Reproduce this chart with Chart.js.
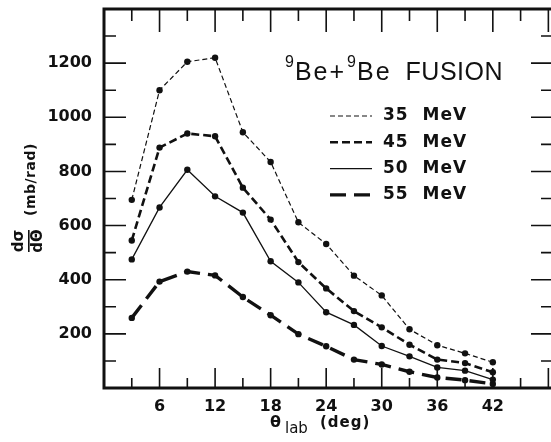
<!DOCTYPE html>
<html><head><meta charset="utf-8">
<script src="https://cdn.jsdelivr.net/npm/chart.js@4.4.0/dist/chart.umd.min.js"></script>
<style>html,body{margin:0;padding:0;background:#fff;overflow:hidden;width:551px;height:442px}#wrap{width:560px;height:442px}</style>
</head><body><div id="wrap"><canvas id="c" width="560" height="442"></canvas></div>
<script>
const angles = [3,6,9,12,15,18,21,24,27,30,33,36,39,42];
const mev35 = [695,1100,1205,1220,945,835,612,532,415,342,217,158,128,95];
const mev45 = [545,888,940,930,740,622,465,368,284,224,160,105,92,58];
const mev50 = [475,667,806,708,648,468,390,280,233,155,117,76,64,31];
const mev55 = [259,393,430,416,336,269,199,154,105,87,60,39,29,15];
const seriesLabels = ['35  MeV','45  MeV','50  MeV','55  MeV'];
const xTickLabels = [6,12,18,24,30,36,42];
const yTickLabels = [200,400,600,800,1000,1200];

const INK = '#111';
const mk = (vals) => angles.map((a,i)=>({x:a,y:vals[i]}));
const styles = [
  {w:1.2, dash:[5,3]},
  {w:2.6, dash:[8,4]},
  {w:1.3, dash:[]},
  {w:3.4, dash:[16,8]}
];
const series = [mev35, mev45, mev50, mev55];
const datasets = series.map((s,i)=>({
  label: seriesLabels[i],
  data: mk(s),
  borderColor: INK,
  borderWidth: styles[i].w,
  borderDash: styles[i].dash,
  pointRadius: 3.2,
  pointBackgroundColor: INK,
  pointBorderWidth: 0,
  tension: 0,
  fill: false
}));

const framePlugin = {
  id: 'frame',
  afterDatasetsDraw(chart) {
    const ctx = chart.ctx, a = chart.chartArea;
    const xs = chart.scales.x, ys = chart.scales.y;
    ctx.save();
    ctx.strokeStyle = INK;
    ctx.lineWidth = 3;
    ctx.strokeRect(a.left, a.top, a.right - a.left, a.bottom - a.top);
    ctx.lineWidth = 1.6;
    ctx.beginPath();
    for (let v = 3; v < 49; v += 3) {
      const px = xs.getPixelForValue(v);
      const major = v % 6 === 0;
      ctx.moveTo(px, a.bottom); ctx.lineTo(px, a.bottom - (major ? 20 : 10));
      ctx.moveTo(px, a.top); ctx.lineTo(px, a.top + (major ? 23 : 12));
    }
    for (let v = 100; v < 1400; v += 100) {
      const py = ys.getPixelForValue(v);
      const major = v % 200 === 0;
      ctx.moveTo(a.left, py); ctx.lineTo(a.left + (major ? 22 : 12), py);
      ctx.moveTo(a.right, py); ctx.lineTo(a.right - (major ? 22 : 12), py);
    }
    ctx.stroke();
    ctx.restore();
  },
  afterDraw(chart) {
    const ctx = chart.ctx, a = chart.chartArea;
    ctx.save();
    ctx.fillStyle = INK;
    // Title
    ctx.textBaseline = 'alphabetic';
    ctx.textAlign = 'left';
    let x = a.left + 181;
    const base = a.top + 71;
    const parts = [
      {t:'9', f:'16px "Liberation Sans"', dy:-13, gap:1},
      {t:'Be+', f:'25px "Liberation Sans"', dy:0, gap:1, ls:'2px'},
      {t:'9', f:'16px "Liberation Sans"', dy:-13, gap:1},
      {t:'Be', f:'25px "Liberation Sans"', dy:0, gap:14, ls:'2px'},
      {t:'FUSION', f:'25px "Liberation Sans"', dy:0, gap:0, ls:'0.5px'}
    ];
    for (const p of parts) {
      ctx.font = p.f;
      ctx.letterSpacing = p.ls || '0px';
      ctx.fillText(p.t, x, base + p.dy);
      x += ctx.measureText(p.t).width + p.gap;
    }
    ctx.letterSpacing = '0px';
    // Legend
    const lx0 = a.left + 226, lx1 = a.left + 268, tx = a.left + 279;
    chart.data.datasets.forEach((ds, i) => {
      const y = a.top + 107 + i * 26.3;
      ctx.save();
      ctx.strokeStyle = INK;
      ctx.lineWidth = ds.borderWidth;
      ctx.setLineDash(ds.borderDash);
      ctx.beginPath(); ctx.moveTo(lx0, y); ctx.lineTo(lx1, y); ctx.stroke();
      ctx.restore();
      ctx.font = 'bold 17px "DejaVu Sans"';
      ctx.letterSpacing = '1px';
      ctx.textBaseline = 'middle';
      ctx.fillText(ds.label, tx, y);
      ctx.letterSpacing = '0px';
    });
    // X axis title
    ctx.textBaseline = 'alphabetic';
    ctx.font = 'bold 16px "DejaVu Sans"';
    ctx.fillText('\u03b8', 270, 427);
    ctx.font = '15px "DejaVu Sans"';
    ctx.fillText('lab', 285, 433);
    ctx.font = 'bold 15px "DejaVu Sans"';
    ctx.letterSpacing = '1px';
    ctx.fillText('(deg)', 320, 427);
    ctx.letterSpacing = '0px';
    // Y axis title (rotated)
    ctx.save();
    ctx.rotate(-Math.PI / 2);
    // rotated frame: u = -screenY, v = screenX
    ctx.font = 'bold 15px "DejaVu Sans"';
    ctx.textAlign = 'center';
    ctx.textBaseline = 'middle';
    const fracU = -241;
    ctx.fillText('d\u03c3', fracU, 19);
    ctx.fillText('d\u0398', fracU, 38);
    ctx.fillRect(fracU - 11, 28, 22, 1.6);
    ctx.textAlign = 'left';
    ctx.font = 'bold 14px "DejaVu Sans"';
    ctx.letterSpacing = '0.5px';
    ctx.fillText('(mb/rad)', -216, 31);
    ctx.restore();
    ctx.restore();
  }
};

new Chart(document.getElementById('c'), {
  type: 'line',
  data: { datasets },
  options: {
    responsive: false,
    devicePixelRatio: 1,
    animation: false,
    layout: { padding: { top: 9, right: 7, left: 0, bottom: 0 } },
    plugins: { legend: { display: false }, tooltip: { enabled: false } },
    scales: {
      x: {
        type: 'linear', min: 0, max: 48.5,
        afterFit(s) { s.height = 54; s.paddingLeft = 0; s.paddingRight = 0; },
        grid: { display: false, drawTicks: false },
        border: { display: false },
        ticks: {
          stepSize: 6, autoSkip: false, maxRotation: 0, padding: 9,
          color: INK, font: { family: 'DejaVu Sans', weight: 'bold', size: 16 },
          callback: (v) => xTickLabels.includes(v) ? String(v) : null
        }
      },
      y: {
        min: 0, max: 1400,
        afterFit(s) { s.width = 104; s.paddingTop = 0; s.paddingBottom = 0; },
        grid: { display: false, drawTicks: false },
        border: { display: false },
        ticks: {
          stepSize: 200, padding: 12,
          color: INK, font: { family: 'DejaVu Sans', weight: 'bold', size: 16 },
          callback: (v) => yTickLabels.includes(v) ? String(v) : null
        }
      }
    }
  },
  plugins: [framePlugin]
});
</script>
</body></html>
